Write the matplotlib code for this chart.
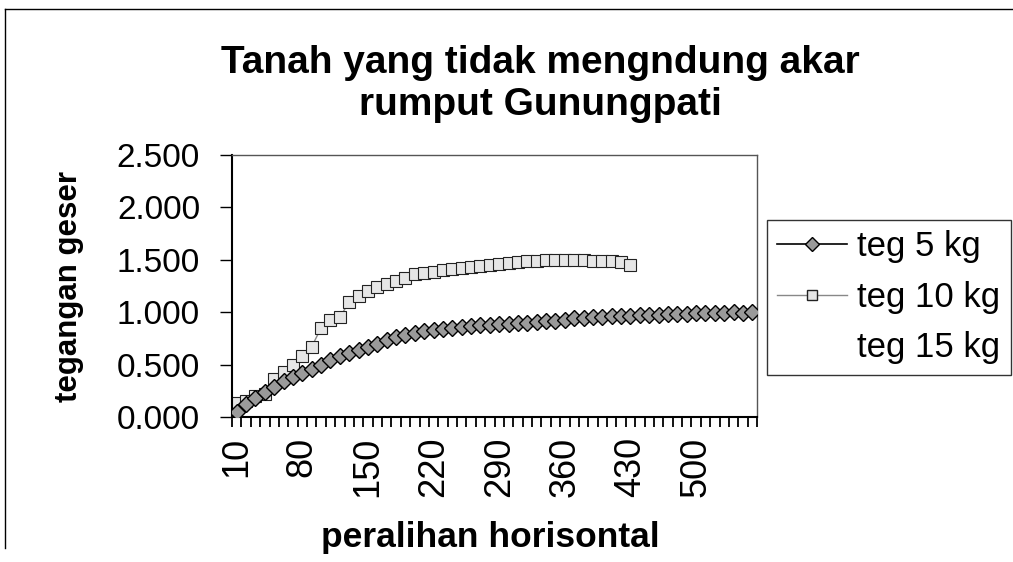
import matplotlib.pyplot as plt
from matplotlib.lines import Line2D
import numpy as np

plt.rcParams['font.family'] = ['Liberation Sans', 'DejaVu Sans']

# data kategori (peralihan horisontal)
kategori = list(range(10, 570, 10))
teg_5kg = [0.05, 0.12, 0.18, 0.24, 0.29, 0.34, 0.38, 0.42, 0.46, 0.50,
           0.54, 0.58, 0.61, 0.64, 0.67, 0.70, 0.73, 0.76, 0.78, 0.80,
           0.82, 0.83, 0.84, 0.85, 0.86, 0.87, 0.88, 0.88, 0.89, 0.89,
           0.90, 0.90, 0.91, 0.92, 0.92, 0.93, 0.94, 0.94, 0.95, 0.95,
           0.96, 0.96, 0.96, 0.97, 0.97, 0.97, 0.98, 0.98, 0.98, 0.99,
           0.99, 0.99, 0.99, 1.00, 0.99, 1.00]
teg_10kg = [0.13, 0.15, 0.20, 0.22, 0.36, 0.43, 0.50, 0.58, 0.67, 0.85,
            0.93, 0.95, 1.10, 1.15, 1.20, 1.24, 1.27, 1.30, 1.33, 1.36,
            1.37, 1.38, 1.40, 1.41, 1.42, 1.43, 1.44, 1.45, 1.46, 1.47,
            1.48, 1.49, 1.49, 1.50, 1.50, 1.50, 1.50, 1.50, 1.49, 1.49,
            1.49, 1.48, 1.45]
teg_15kg = []  # tidak terlihat pada gambar
label_seri = ['teg 5 kg', 'teg 10 kg', 'teg 15 kg']
yticks = [0.0, 0.5, 1.0, 1.5, 2.0, 2.5]

W, H = 1013, 562
fig = plt.figure(figsize=(W / 100, H / 100), dpi=100)
ax = fig.add_axes([232 / W, 1 - 417 / H, (757 - 232) / W, (417 - 155) / H])

idx = np.arange(len(kategori))
ax.plot(idx[:len(teg_5kg)], teg_5kg, color='black', lw=1.2, marker='D', ms=8,
        mfc='#9a9a9a', mec='black', mew=1.0, zorder=3)
ax.plot(idx[:len(teg_10kg)], teg_10kg, color='#888888', lw=1.0, marker='s', ms=8,
        mfc='#e6e6e6', mec='#222222', mew=0.8, zorder=2)
ax.plot(idx[:len(teg_15kg)], teg_15kg, color='white', lw=1.0)

ax.set_xlim(-0.5, len(kategori) - 0.5)
ax.set_ylim(0, 2.5)
ax.set_yticks(yticks)
ax.set_yticklabels(['%.3f' % v for v in yticks])
ax.tick_params(axis='y', direction='out', length=9, width=1, pad=14, labelsize=24)

lab_pos = idx[::7]
ax.set_xticks(lab_pos)
ax.set_xticklabels([str(kategori[i]) for i in lab_pos], rotation=90)
ax.set_xticks(np.arange(-0.5, len(kategori)), minor=True)
ax.tick_params(axis='x', which='major', length=0, pad=14, labelsize=26)
ax.tick_params(axis='x', which='minor', direction='out', length=7, width=1.3)

for s in ['left', 'bottom']:
    ax.spines[s].set_linewidth(1.5)
for s in ['top', 'right']:
    ax.spines[s].set_linewidth(1.0)
    ax.spines[s].set_color('#555555')

# judul dan label sumbu
fig.text(540 / W, 1 - 84 / H, 'Tanah yang tidak mengndung akar\nrumput Gunungpati',
         ha='center', va='center', fontsize=28, fontweight='bold', linespacing=1.2)
fig.text(69 / W, 1 - 287 / H, 'tegangan geser', rotation=90, ha='center', va='center',
         fontsize=22.5, fontweight='bold')
fig.text(490 / W, 1 - 537 / H, 'peralihan horisontal', ha='center', va='center',
         fontsize=25.5, fontweight='bold')

# legenda
h = [Line2D([], [], color='black', lw=1.2, marker='D', ms=7, mfc='#9a9a9a', mec='black'),
     Line2D([], [], color='#888888', lw=1.0, marker='s', ms=7, mfc='#e6e6e6', mec='#222222'),
     Line2D([], [], color='white', lw=1.0)]
leg = fig.legend(h, label_seri, loc='upper left', bbox_to_anchor=(767 / W, 1 - 220 / H),
                 fontsize=25, frameon=True, fancybox=False, edgecolor='black',
                 handlelength=2.0, borderpad=0.3, labelspacing=0.5, handletextpad=0.3,
                 borderaxespad=0)
leg.get_frame().set_linewidth(1.0)

# garis tepi area grafik
fig.add_artist(Line2D([5 / W, 1], [1 - 9 / H, 1 - 9 / H], color='black', lw=1.0))
fig.add_artist(Line2D([5 / W, 5 / W], [1 - 9 / H, 1 - 548 / H], color='black', lw=1.0))

fig.savefig('out.png', dpi=100)
